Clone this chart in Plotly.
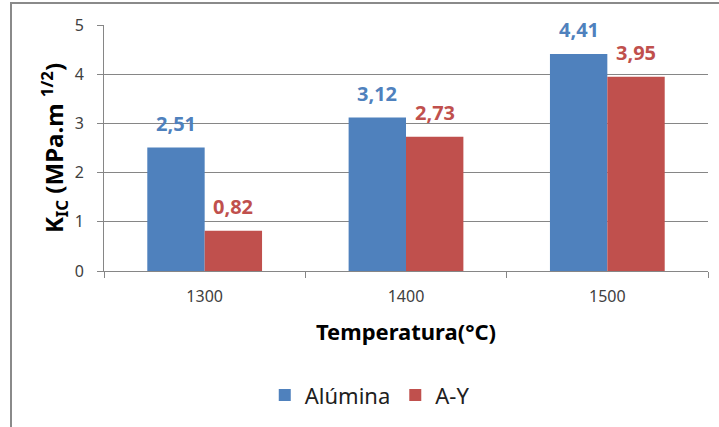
import plotly.graph_objects as go

categories = ["1300", "1400", "1500"]
alumina = [2.51, 3.12, 4.41]
ay = [0.82, 2.73, 3.95]
series_names = ["Alúmina", "A-Y"]
blue = "#4F81BD"
red = "#C0504D"
FONT = "Noto Sans"

W, H = 719, 427
ML, MR, MT, MB = 104, 11, 25, 156
BARGAP = 0.43
plot_w = W - ML - MR
cat_w = plot_w / len(categories)
bar_w = cat_w * (1 - BARGAP) / 2


def fmt(v):
    return f"{v:.2f}".replace(".", ",")


fig = go.Figure()
annotations = []
for i, (name, vals, col) in enumerate([(series_names[0], alumina, blue), (series_names[1], ay, red)]):
    fig.add_trace(go.Bar(
        x=categories, y=vals, name=name,
        marker=dict(color=col, line=dict(width=0)),
    ))
    shift = (i - 0.5) * bar_w
    for ci, v in enumerate(vals):
        annotations.append(dict(
            x=ci, y=v, xref="x", yref="y", text=f"<b>{fmt(v)}</b>", showarrow=False,
            xshift=shift, yshift=9, yanchor="bottom", xanchor="center",
            font=dict(color=col, size=20, family=FONT),
        ))

fig.update_layout(
    width=W, height=H,
    margin=dict(l=ML, r=MR, t=MT, b=MB),
    paper_bgcolor="white", plot_bgcolor="white",
    barmode="group", bargap=BARGAP, bargroupgap=0,
    font=dict(family=FONT, color="#404040"),
    showlegend=True,
    legend=dict(orientation="h", x=0.44, xanchor="center", y=-0.505, yanchor="middle",
                font=dict(size=22, color="#202020", family=FONT)),
    xaxis=dict(
        type="category", showline=True, linecolor="#868686", linewidth=1,
        ticks="outside", tickson="boundaries", ticklen=6, tickcolor="#868686",
        tickfont=dict(size=16, color="#404040"), ticklabelstandoff=11,
        title=dict(text="<b>Temperatura(°C)</b>", font=dict(size=22, color="#000000"), standoff=18),
    ),
    yaxis=dict(
        range=[0, 5], dtick=1, showline=True, linecolor="#868686", linewidth=1,
        ticks="outside", ticklen=6, tickcolor="#868686",
        showgrid=True, gridcolor="#868686", gridwidth=1, zeroline=False,
        tickfont=dict(size=16, color="#404040"), ticklabelstandoff=10,
        title=dict(text="<b>K<sub>IC</sub> (MPa.m <sup>1/2</sup>)</b>", font=dict(size=24, color="#000000"), standoff=4),
    ),
    annotations=annotations,
    shapes=[dict(type="rect", xref="paper", yref="paper",
                 x0=(11 - ML) / plot_w, x1=1.06, y0=-0.7, y1=(271 - 3) / 246,
                 line=dict(color="#8a8a8a", width=2), fillcolor="rgba(0,0,0,0)", layer="below")],
)

fig.write_html("out.html")
